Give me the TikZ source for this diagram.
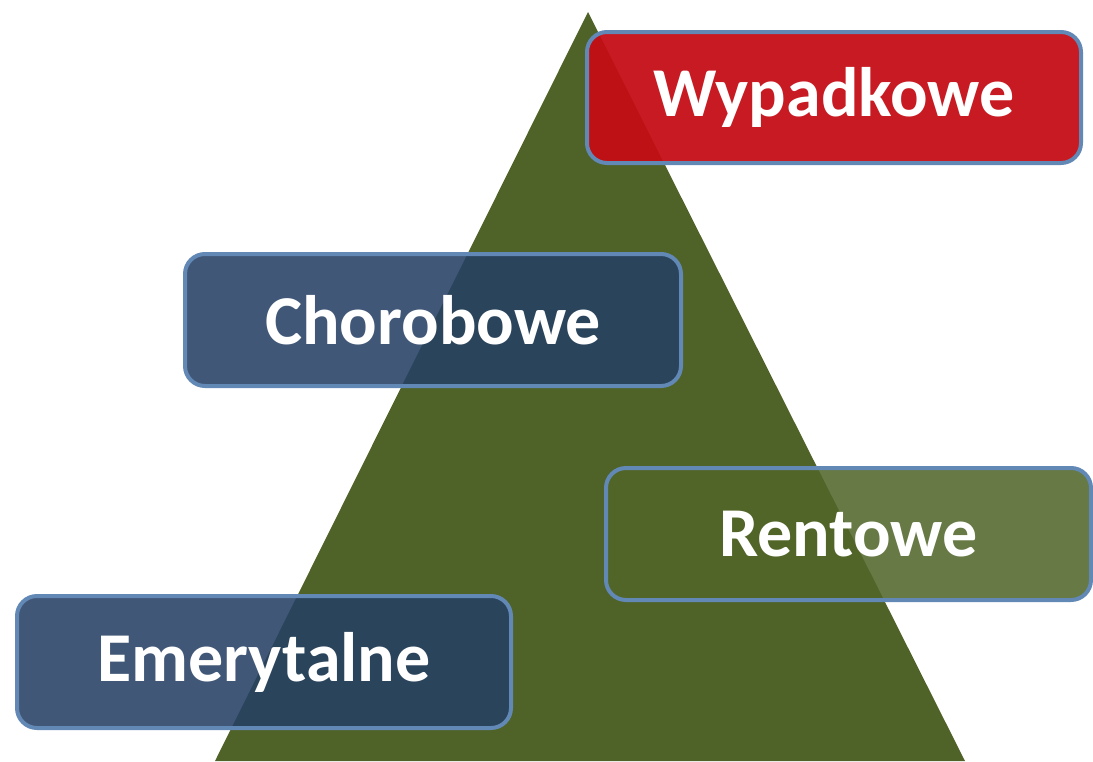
\documentclass[tikz,border=0pt]{standalone}
\usepackage{fontspec}
\setmainfont{Carlito}
\definecolor{tri}{RGB}{79,98,40}
\definecolor{bluefill}{RGB}{38,64,100}
\definecolor{greenfill}{RGB}{82,102,42}
\definecolor{redfill}{RGB}{196,12,20}
\definecolor{edge}{RGB}{98,136,182}
\tikzset{
  tile/.style={draw=edge, line width=4pt, rounded corners=20pt, fill opacity=0.88,
    text opacity=1, text=white, font=\fontsize{70}{84}\selectfont\bfseries,
    inner sep=0pt},
}
\begin{document}
\begin{tikzpicture}[x=1pt,y=-1pt]
\useasboundingbox (0,0) rectangle (1093,761);
\fill[tri] (588,12) -- (965,761) -- (215,761) -- cycle;
\node[tile, fill=redfill, fill opacity=0.94, minimum width=494pt, minimum height=131pt] (wyp) at (834,97.5) {Wypadkowe};
\node[tile, fill=bluefill, minimum width=496pt, minimum height=132pt] (cho) at (433,320) {Chorobowe};
\node[tile, fill=greenfill, minimum width=485pt, minimum height=132pt] (ren) at (848.5,534) {Rentowe};
\node[tile, fill=bluefill, minimum width=494pt, minimum height=132pt] (eme) at (264,662) {Emerytalne};
\end{tikzpicture}
\end{document}
